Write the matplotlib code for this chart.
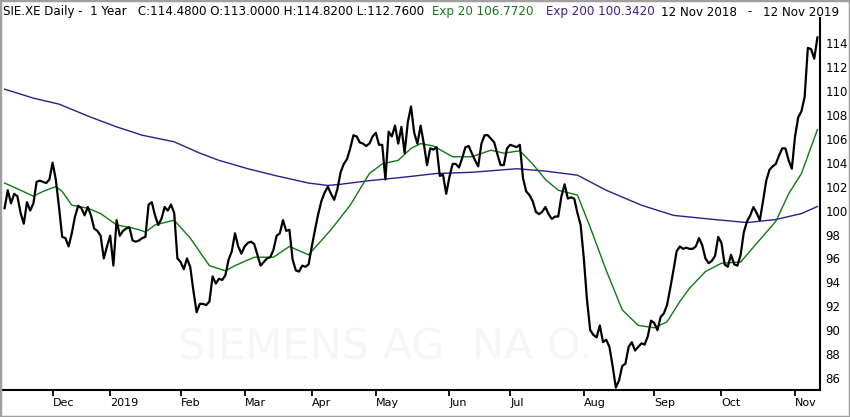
import matplotlib
matplotlib.use("Agg")
import matplotlib.pyplot as plt
from matplotlib.patches import Rectangle

# daily closes, 12 Nov 2018 .. 12 Nov 2019 (one value per trading day)
close = [
    100.2, 101.7, 100.6, 101.4, 101.2, 99.8, 98.9, 100.7, 100.0, 100.6,
    102.4, 102.5, 102.4, 102.3, 102.6, 104.0, 102.6, 100.3, 97.8, 97.7,
    97.0, 98.1, 99.5, 100.4, 100.2, 99.6, 100.3, 99.6, 98.5, 98.3,
    97.9, 96.0, 97.0, 97.9, 95.4, 99.2, 97.9, 98.3, 98.5, 98.6,
    97.5, 97.4, 97.5, 97.7, 97.8, 100.5, 100.7, 99.6, 98.8, 99.3,
    100.3, 100.0, 100.5, 99.8, 96.0, 95.7, 95.1, 96.0, 95.3, 93.3,
    91.5, 92.2, 92.2, 92.1, 92.4, 94.5, 93.9, 94.3, 94.2, 94.6,
    95.9, 96.6, 98.1, 97.0, 96.4, 97.0, 97.3, 97.4, 97.2, 96.3,
    95.4, 95.7, 96.0, 96.1, 96.7, 97.9, 98.1, 99.2, 98.3, 98.4,
    95.9, 95.0, 94.9, 95.4, 95.3, 95.5, 97.0, 98.4, 99.7, 100.8,
    101.5, 102.0, 101.4, 100.9, 101.8, 103.2, 103.9, 104.3, 105.2, 106.3,
    106.2, 105.7, 105.6, 105.4, 105.6, 106.2, 106.5, 105.5, 105.5, 102.6,
    106.6, 106.2, 107.1, 105.6, 107.0, 104.8, 107.4, 108.7, 106.5, 105.6,
    107.1, 105.6, 103.8, 105.2, 105.1, 105.3, 102.9, 103.0, 101.4, 102.8,
    103.9, 103.9, 103.6, 104.4, 105.3, 105.4, 104.8, 104.2, 103.7, 105.6,
    106.3, 106.3, 106.0, 105.7, 104.7, 103.8, 103.8, 105.2, 105.5, 105.4,
    105.3, 105.5, 102.7, 101.6, 101.3, 100.8, 99.9, 99.7, 99.9, 100.3,
    99.7, 99.3, 99.5, 99.5, 101.2, 102.2, 101.0, 101.1, 101.0, 99.8,
    98.8, 96.0, 92.5, 90.0, 89.6, 89.4, 90.4, 89.0, 89.2, 88.6,
    87.0, 85.2, 85.8, 87.0, 87.2, 88.6, 89.0, 88.3, 88.6, 88.9,
    88.8, 89.5, 90.8, 90.6, 90.0, 91.1, 91.4, 92.1, 93.5, 95.0,
    96.6, 97.0, 96.8, 96.9, 96.8, 96.8, 97.0, 97.7, 97.1, 96.0,
    95.6, 95.8, 96.2, 97.8, 97.3, 95.5, 95.3, 96.3, 95.5, 95.4,
    96.3, 98.2, 99.1, 99.6, 100.3, 99.8, 99.2, 100.8, 102.5, 103.4,
    103.7, 103.9, 104.6, 105.2, 105.2, 104.2, 103.5, 106.2, 107.8, 108.3,
    109.5, 113.6, 113.5, 112.7, 114.48,
]

# exponential averages (trading-day index, value)
ema20_day = [0, 5, 9, 12, 16, 18, 21, 26, 30, 35, 39, 42, 44, 47, 53, 58, 64, 69, 72,
             78, 84, 89, 95, 102, 108, 114, 118, 123, 127, 130, 134, 140, 146, 152,
             156, 161, 165, 169, 173, 179, 183, 188, 193, 198, 203, 207, 211, 214,
             219, 224, 230, 235, 241, 245, 249, 254]
ema20_val = [102.3, 101.7, 101.2, 101.6, 102.0, 101.6, 100.45, 100.2, 99.75, 98.8,
             98.6, 98.4, 98.2, 98.8, 99.2, 97.7, 95.4, 94.96, 95.4, 96.1, 96.1, 97.0,
             96.3, 98.4, 100.45, 103.1, 103.9, 104.2, 105.2, 105.6, 105.4, 104.5,
             104.5, 105.05, 104.8, 105.0, 103.9, 102.6, 101.7, 101.3, 98.6, 95.0,
             91.7, 90.4, 90.2, 90.7, 92.4, 93.5, 94.9, 95.6, 95.7, 97.25, 99.1,
             101.4, 103.1, 106.772]

ema200_day = [0, 9, 17, 27, 35, 43, 53, 61, 67, 76, 85, 95, 101, 105, 114, 125, 135,
              146, 160, 169, 179, 188, 199, 209, 220, 232, 241, 249, 254]
ema200_val = [110.15, 109.4, 108.9, 107.8, 107.0, 106.3, 105.75, 104.8, 104.2, 103.5,
              102.9, 102.3, 102.1, 102.2, 102.5, 102.8, 103.1, 103.2, 103.5, 103.3,
              102.96, 101.7, 100.45, 99.6, 99.3, 99.0, 99.25, 99.75, 100.342]

month_labels = ["Dec", "2019", "Feb", "Mar", "Apr", "May", "Jun", "Jul", "Aug", "Sep", "Oct", "Nov"]
month_start = [15, 33, 55, 75, 96, 116, 139, 158, 181, 203, 224, 247]

price_ticks = list(range(86, 115, 2))

W, H = 850, 417
fig = plt.figure(figsize=(W / 100, H / 100), dpi=100)
ax = fig.add_axes([2 / W, 1 - 390 / H, 818 / W, 372 / H])

ax.text(0.468, 0.113, "SIEMENS AG  NA O.", transform=ax.transAxes, ha="center", va="center",
        fontsize=31, color="#f6f6f6", zorder=0)

ax.plot(range(len(close)), close, color="black", lw=1.6, zorder=4)
ax.plot(ema20_day, ema20_val, color="#0f7a0f", lw=1.0, zorder=3)
ax.plot(ema200_day, ema200_val, color="#2f1b8c", lw=1.0, zorder=2)

ax.set_xlim(-0.81, 254.8)
ax.set_ylim(85.0, 116.1)

for s in ["left", "top"]:
    ax.spines[s].set_visible(False)
for s in ["bottom", "right"]:
    ax.spines[s].set_linewidth(1.5)

ax.yaxis.tick_right()
ax.set_yticks(price_ticks)
ax.set_yticklabels([str(p) for p in price_ticks])
ax.tick_params(axis="y", length=0, pad=4, labelsize=8.5)

ax.set_xticks(month_start)
ax.set_xticklabels(month_labels)
for lbl in ax.get_xticklabels():
    lbl.set_horizontalalignment("left")
ax.tick_params(axis="x", direction="out", length=4, width=1.3, pad=2, labelsize=8)

# header line
hdr = [
    (3, "SIE.XE Daily -  1 Year   C:114.4800 O:113.0000 H:114.8200 L:112.7600", "black", "left"),
    (432, "Exp 20 106.7720", "#137a13", "left"),
    (546, "Exp 200 100.3420", "#3b1f8f", "left"),
    (661, "12 Nov 2018", "black", "left"),
    (750, "-", "black", "center"),
    (763, "12 Nov 2019", "black", "left"),
]
for x, t, c, ha in hdr:
    fig.text(x / W, 1 - 12 / H, t, ha=ha, va="center", fontsize=8.6, color=c)

fig.add_artist(Rectangle((0, 0), 1, 1, transform=fig.transFigure, fill=False,
                         edgecolor="#a0a0a0", lw=2.5))

fig.savefig("out.png", dpi=100)
